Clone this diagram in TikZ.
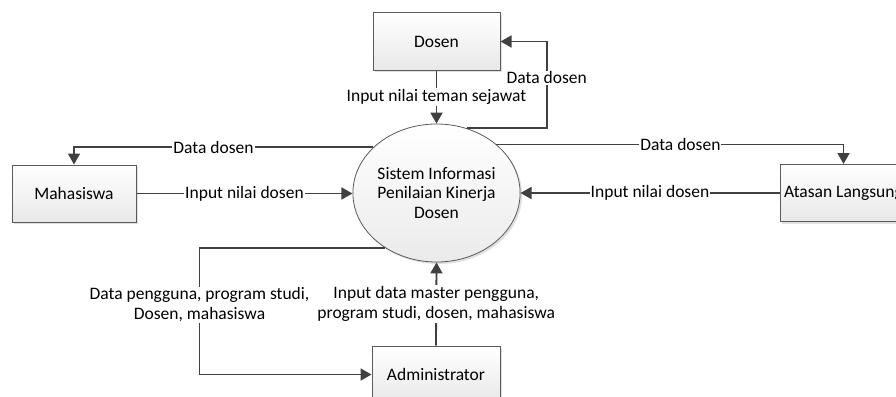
\documentclass[tikz,border=0pt]{standalone}
\usepackage{fontspec}
\setmainfont{Carlito}
\usetikzlibrary{arrows.meta,shapes.geometric,shadows}
\definecolor{linec}{HTML}{404040}
\definecolor{boxc}{HTML}{5A5A5A}
\tikzset{
  entity/.style={rectangle, draw=boxc, line width=1pt, top color=white, bottom color=black!9,
    minimum width=127pt, minimum height=57pt, inner sep=0pt, font=\fontsize{17.5}{20}\selectfont,
    drop shadow={shadow xshift=2pt, shadow yshift=-2pt, fill=black!25, opacity=0.5}},
  proc/.style={ellipse, draw=boxc, line width=0.8pt, top color=white, bottom color=black!8,
    minimum width=159pt, minimum height=138pt, inner sep=0pt, align=center,
    font=\fontsize{17.5}{19.5}\selectfont,
    drop shadow={shadow xshift=2pt, shadow yshift=-2pt, fill=black!25, opacity=0.5}},
  arr/.style={draw=linec, line width=1.8pt, -{Triangle[length=11pt,width=12pt]}},
  lbl/.style={fill=white, inner sep=1pt, align=center, text=black, font=\fontsize{17.5}{20}\selectfont}
}
\begin{document}
\begin{tikzpicture}[x=1pt,y=-1pt]
\useasboundingbox (0,0) rectangle (896,396);
\node[entity] (dosen) at (436.5,41.5) {Dosen};
\node[entity, minimum width=124pt] (mhs) at (74,193.5) {Mahasiswa};
\node[entity] (atasan) at (843.5,193) {Atasan Langsung};
\node[entity, minimum width=128pt] (admin) at (436,374.5) {Administrator};
\node[proc] (sys) at (436.5,193) {Sistem Informasi\\Penilaian Kinerja\\Dosen};
\coordinate (bendA) at (199.5,0);
% Dosen -> system
\draw[arr] (dosen.south) -- node[lbl]{Input nilai teman sejawat} (sys.north);
% system -> Dosen
\draw[arr] (sys.65) -- ++(80,0) |- node[lbl, pos=0.29]{Data dosen} (dosen.east);
% system -> Mahasiswa
\draw[arr] (sys.144) -| node[lbl, pos=0.267]{Data dosen} (mhs.north);
% Mahasiswa -> system
\draw[arr] (mhs.east) -- node[lbl]{Input nilai dosen} (sys.west |- mhs.east);
% system -> Atasan
\draw[arr] (sys.39) -| node[lbl, pos=0.265]{Data dosen} (atasan.north);
% Atasan -> system
\draw[arr] (atasan.west) -- node[lbl]{Input nilai dosen} (sys.east);
% system -> Administrator
\draw[arr] (sys.227) -| (admin.west -| bendA) -- (admin.west);
\node[lbl] (lblA) at (199.5,305) {Data pengguna, program studi,\\Dosen, mahasiswa};
% Administrator -> system
\draw[arr] (admin.north) -- node[lbl]{Input data master pengguna,\\program studi, dosen, mahasiswa} (sys.south);
\end{tikzpicture}
\end{document}
